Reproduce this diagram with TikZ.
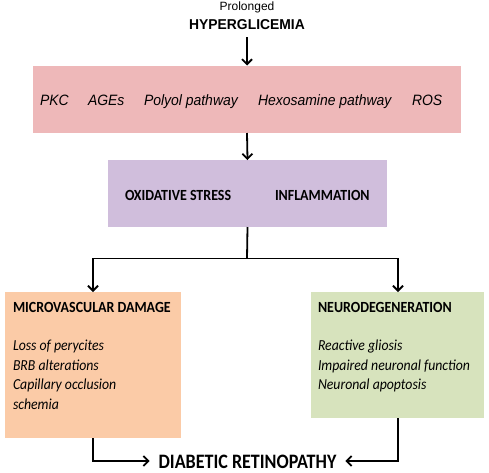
\documentclass[tikz,border=0pt]{standalone}
\usepackage{fontspec}
\setmainfont{Carlito}
\newfontfamily\arialf{Liberation Sans}
\usetikzlibrary{arrows.meta}
\definecolor{pinkbox}{HTML}{EEB8B9}
\definecolor{purplebox}{HTML}{D0BEDC}
\definecolor{orangebox}{HTML}{FBCBA7}
\definecolor{greenbox}{HTML}{D7E3BD}
\newcommand\hsq[2]{\scalebox{#1}[1]{#2}}
\tikzset{
  box/.style={inner sep=0pt, outer sep=0pt, draw=none},
  lbl/.style={inner sep=0pt, outer sep=0pt, anchor=base west},
  pathtxt/.style={lbl, font=\arialf\itshape\fontsize{15}{17}\selectfont},
  hdr/.style={lbl, font=\bfseries\fontsize{15.5}{17}\selectfont},
  item/.style={lbl, font=\itshape\fontsize{15.3}{17}\selectfont},
  conn/.style={line width=1.8pt, -{Straight Barb[length=5pt,width=10pt,line width=1.8pt]}},
  plain/.style={line width=1.8pt}
}
\begin{document}
\begin{tikzpicture}[x=1pt,y=-1pt]
\useasboundingbox (0,0) rectangle (489,472);
% title
\node[lbl, anchor=base, font=\arialf\fontsize{12}{14}\selectfont] (prol) at (247,10) {Prolonged};
\node[lbl, anchor=base, font=\arialf\bfseries\fontsize{14.3}{16}\selectfont] (hyper) at (247,29.5) {\hsq{0.97}{HYPERGLICEMIA}};
% boxes
\node[box, fill=pinkbox, minimum width=428pt, minimum height=67.5pt] (pink) at (247,99.25) {};
\node[box, fill=purplebox, minimum width=279pt, minimum height=67pt] (purple) at (247.5,193.5) {};
\node[box, fill=orangebox, minimum width=176pt, minimum height=146pt] (orange) at (93,365) {};
\node[box, fill=greenbox, minimum width=173pt, minimum height=126pt] (green) at (397.5,355) {};
% pink texts
\node[pathtxt] (pkc) at (40,105) {\hsq{0.93}{PKC}};
\node[pathtxt] (ages) at (88,105) {\hsq{0.93}{AGEs}};
\node[pathtxt] (polyol) at (144,105) {\hsq{0.93}{Polyol pathway}};
\node[pathtxt] (hexo) at (258,105) {\hsq{0.93}{Hexosamine pathway}};
\node[pathtxt] (ros) at (412,105) {\hsq{0.93}{ROS}};
% purple texts
\node[hdr] (ox) at (125,200) {\hsq{0.9}{OXIDATIVE STRESS}};
\node[hdr] (infl) at (275,200) {\hsq{0.9}{INFLAMMATION}};
% orange texts
\node[hdr] (micro) at (13,312.7) {\hsq{0.9}{MICROVASCULAR DAMAGE}};
\node[item] (m1) at (13,350.7) {\hsq{0.9}{Loss of perycites}};
\node[item] (m2) at (13,370.2) {\hsq{0.9}{BRB alterations}};
\node[item] (m3) at (13,389.7) {\hsq{0.9}{Capillary occlusion}};
\node[item] (m4) at (13,409.2) {\hsq{0.9}{schemia}};
% green texts
\node[hdr] (neuro) at (318,312.7) {\hsq{0.9}{NEURODEGENERATION}};
\node[item] (n1) at (318,350.7) {\hsq{0.9}{Reactive gliosis}};
\node[item] (n2) at (318,370.2) {\hsq{0.9}{Impaired neuronal function}};
\node[item] (n3) at (318,389.7) {\hsq{0.9}{Neuronal apoptosis}};
% final
\node[lbl, anchor=base, inner xsep=9pt, font=\bfseries\fontsize{20.5}{22}\selectfont] (dr) at (247.5,468) {\hsq{0.88}{DIABETIC RETINOPATHY}};
% connectors
\coordinate (hstart) at (247,37);
\draw[conn] (hstart) -- (pink.north);
\draw[conn] (pink.south) -- (purple.north);
\coordinate (split) at (247,258.5);
\coordinate (lsplit) at (93,258.5);
\coordinate (rsplit) at (398,258.5);
\draw[plain] (purple.south) -- (split);
\draw[conn] (split) -- (lsplit) -- (lsplit |- orange.north);
\draw[conn] (split) -- (rsplit) -- (rsplit |- green.north);
\coordinate (lbot) at (93,461);
\coordinate (rbot) at (398,461);
\draw[conn] (orange.south) -- (lbot) -- (dr.west |- lbot);
\draw[conn] (rsplit |- green.south) -- (rbot) -- (dr.east |- rbot);
\end{tikzpicture}
\end{document}
